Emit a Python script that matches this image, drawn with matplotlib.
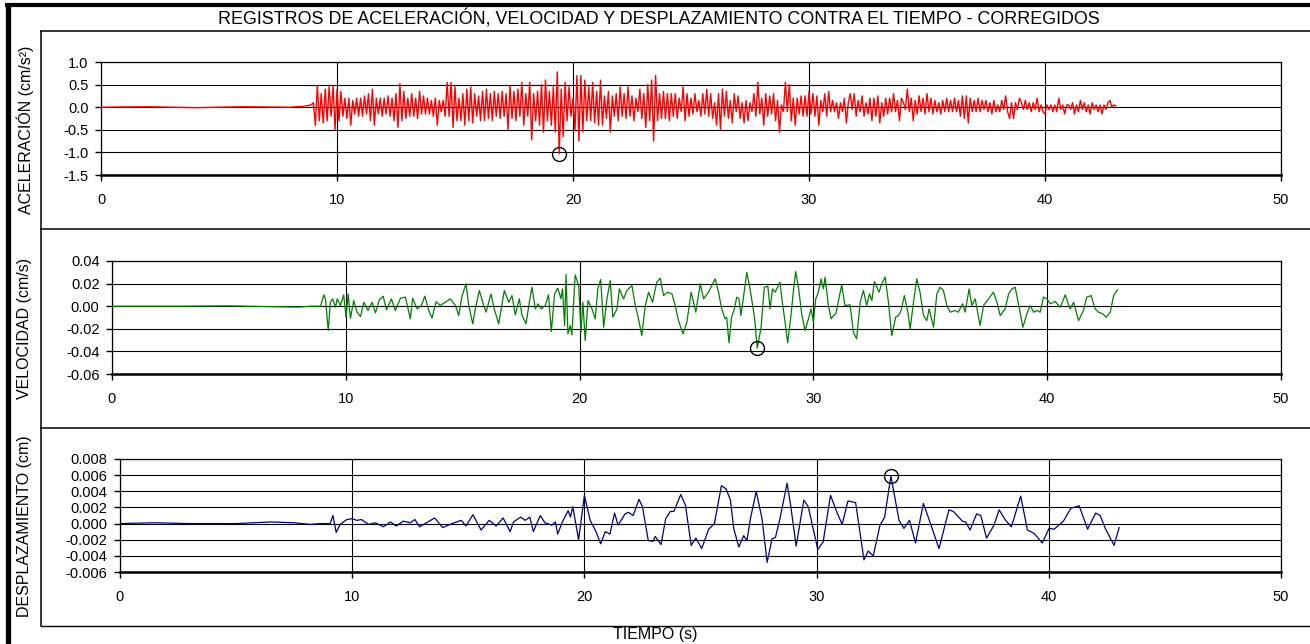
import numpy as np
import matplotlib
matplotlib.use('Agg')
import matplotlib.pyplot as plt
from matplotlib.lines import Line2D

plt.rcParams['font.family'] = ['Liberation Sans', 'DejaVu Sans']
plt.rcParams['axes.unicode_minus'] = False

W, H = 1310, 644

title = "REGISTROS DE ACELERACIÓN, VELOCIDAD Y DESPLAZAMIENTO CONTRA EL TIEMPO - CORREGIDOS"
x_label = "TIEMPO (s)"
y_labels = ["ACELERACIÓN (cm/s²)", "VELOCIDAD (cm/s)", "DESPLAZAMIENTO (cm)"]
x_ticks = [0, 10, 20, 30, 40, 50]
acc_ticks = [-1.5, -1.0, -0.5, 0.0, 0.5, 1.0]
vel_ticks = [-0.06, -0.04, -0.02, 0.0, 0.02, 0.04]
dis_ticks = [-0.006, -0.004, -0.002, 0.0, 0.002, 0.004, 0.006, 0.008]

# aceleracion antes del evento
acc_pre_t = [0.0, 2.0, 4.0, 6.0, 8.0, 8.6, 8.9]
acc_pre_v = [0.0, 0.01, -0.01, 0.01, 0.0, 0.02, 0.05]
# aceleracion, una fila por segundo desde t = 9 s (cm/s2)
acc_start = 9.0
acc_rows = [
    [0.1, -0.4, 0.48, -0.3, 0.3, -0.35, 0.4, -0.3, 0.45, -0.2, 0.48, -0.5],      # 9
    [0.4, -0.3, 0.35, -0.2, 0.2, -0.25, 0.2, -0.4, 0.15, -0.15, 0.2, -0.2],      # 10
    [0.2, -0.2, 0.25, -0.15, 0.3, -0.3, 0.4, -0.4, 0.2, -0.15, 0.2, -0.2],       # 11
    [0.2, -0.15, 0.25, -0.2, 0.2, -0.3, 0.3, -0.45, 0.52, -0.3, 0.35, -0.25],    # 12
    [0.2, -0.2, 0.3, -0.2, 0.2, -0.25, 0.35, -0.15, 0.25, -0.15, 0.2, -0.15],    # 13
    [0.15, -0.2, 0.2, -0.4, 0.15, -0.1, 0.15, -0.2, 0.55, -0.2, 0.55, -0.45],    # 14
    [0.45, -0.3, 0.2, -0.3, 0.3, -0.4, 0.4, -0.3, 0.45, -0.35, 0.3, -0.2],       # 15
    [0.25, -0.3, 0.35, -0.3, 0.4, -0.25, 0.3, -0.3, 0.35, -0.2, 0.3, -0.25],     # 16
    [0.35, -0.2, 0.3, -0.5, 0.48, -0.25, 0.35, -0.3, 0.4, -0.2, 0.55, -0.4],     # 17
    [0.3, -0.2, 0.55, -0.72, 0.3, -0.3, 0.35, -0.4, 0.5, -0.55, 0.6, -0.3],      # 18
    [0.35, -0.4, 0.45, -0.55, 0.78, -1.03, 0.4, -0.65, 0.55, -0.3, 0.45, -0.2],  # 19
    [0.2, -0.5, 0.7, -0.75, 0.7, -0.55, 0.6, -0.3, 0.45, -0.3, 0.55, -0.35],     # 20
    [0.35, -0.4, 0.6, -0.4, 0.25, -0.25, 0.35, -0.55, 0.25, -0.2, 0.3, -0.3],    # 21
    [0.45, -0.2, 0.3, -0.25, 0.45, -0.2, 0.25, -0.3, 0.2, -0.1, 0.4, -0.25],     # 22
    [0.3, -0.45, 0.5, -0.3, 0.6, -0.75, 0.7, -0.3, 0.3, -0.25, 0.35, -0.25],     # 23
    [0.3, -0.3, 0.3, -0.2, 0.3, -0.25, 0.2, -0.1, 0.45, -0.3, 0.3, -0.2],        # 24
    [0.2, -0.15, 0.3, -0.1, 0.15, -0.2, 0.3, -0.15, 0.4, -0.2, 0.3, -0.25],      # 25
    [0.1, -0.4, 0.3, -0.5, 0.4, -0.2, 0.35, -0.25, 0.15, -0.35, 0.3, -0.1],      # 26
    [0.25, -0.25, 0.1, -0.35, 0.15, -0.3, 0.1, -0.1, 0.3, -0.2, 0.55, -0.15],    # 27
    [0.2, -0.4, 0.3, -0.2, 0.25, -0.15, 0.3, -0.3, 0.15, -0.55, 0.05, -0.1],     # 28
    [0.55, -0.1, 0.5, -0.3, 0.2, -0.4, 0.2, -0.15, 0.25, -0.2, 0.25, -0.2],      # 29
    [0.35, -0.15, 0.3, -0.2, 0.25, -0.4, 0.15, -0.1, 0.3, -0.2, 0.35, -0.1],     # 30
    [0.15, -0.1, 0.1, -0.25, 0.1, -0.1, 0.2, -0.35, 0.1, 0.3, -0.05, 0.3],       # 31
    [-0.2, 0.15, -0.1, 0.25, -0.2, 0.1, -0.15, 0.2, -0.3, 0.2, -0.2, 0.25],      # 32
    [-0.35, 0.1, -0.2, 0.2, -0.15, 0.2, -0.1, 0.3, -0.1, 0.15, -0.3, 0.2],       # 33
    [0.1, -0.05, 0.4, -0.1, 0.2, -0.3, 0.15, -0.15, 0.25, -0.1, 0.2, -0.15],     # 34
    [0.3, -0.1, 0.2, -0.15, 0.15, -0.1, 0.1, -0.15, 0.15, -0.1, 0.2, -0.1],      # 35
    [0.15, -0.1, 0.2, -0.1, 0.15, -0.2, 0.25, -0.25, 0.25, -0.35, 0.2, -0.1],    # 36
    [0.15, -0.1, 0.2, -0.1, 0.15, -0.05, 0.15, -0.1, 0.1, -0.15, 0.15, -0.1],    # 37
    [0.05, -0.1, 0.15, -0.05, 0.25, -0.1, -0.25, 0.1, -0.25, 0.1, -0.05, 0.2],   # 38
    [0.1, -0.05, 0.15, -0.05, 0.1, -0.1, 0.1, -0.05, 0.2, -0.1, 0.05, -0.1],     # 39
    [-0.15, 0.05, -0.05, 0.05, -0.1, 0.05, -0.1, 0.2, -0.05, 0.05, -0.15, 0.05], # 40
    [0.05, -0.05, 0.1, -0.15, 0.05, -0.1, 0.15, -0.05, 0.1, -0.1, 0.05, -0.15],  # 41
    [0.1, -0.05, 0.05, -0.1, 0.05, -0.15, 0.05, -0.05, 0.1, 0.15, 0.0, 0.05],    # 42
    [0.03],                                                                      # 43
]

# velocidad (cm/s)
vel_t = [0.0, 3.0, 5.0, 7.0, 8.0, 8.5,
         8.70, 8.92, 9.06, 9.13, 9.25, 9.34, 9.44, 9.56, 9.63, 9.77, 9.91, 10.01, 10.10, 10.20,
         10.34, 10.48, 10.63, 10.77, 10.95, 11.13, 11.27, 11.44, 11.60, 11.74, 11.95, 12.12,
         12.34, 12.55, 12.76, 12.86, 13.05, 13.23, 13.38, 13.55, 13.69, 13.86, 14.05, 14.26,
         14.47, 14.69, 14.83, 14.97, 15.14, 15.26, 15.43, 15.54, 15.71, 15.90, 16.00, 16.21,
         16.35, 16.54, 16.78, 16.97, 17.11, 17.25, 17.42, 17.54, 17.71, 17.85, 17.96, 18.11,
         18.22, 18.36, 18.53, 18.67, 18.79, 18.93, 19.07, 19.20, 19.27, 19.36, 19.42, 19.50,
         19.60, 19.67, 19.81, 19.96, 20.06, 20.14, 20.24, 20.36, 20.53, 20.67, 20.78, 20.90,
         21.03, 21.17, 21.31, 21.42, 21.60, 21.70, 21.88, 22.02, 22.24, 22.38, 22.52, 22.66,
         22.81, 22.95, 23.12, 23.30, 23.45, 23.59, 23.77, 23.95, 24.09, 24.23, 24.42, 24.59,
         24.77, 24.97, 25.16, 25.30, 25.51, 25.80, 25.94, 26.08,
         26.22, 26.29, 26.39, 26.50, 26.62, 26.72, 26.82, 26.90, 27.00, 27.15, 27.29, 27.48,
         27.60, 27.76, 27.90, 28.05, 28.15, 28.25, 28.36, 28.47, 28.57, 28.67, 28.79, 28.90,
         29.04, 29.14, 29.24, 29.36, 29.50, 29.64, 29.79, 29.90, 30.00, 30.10, 30.21, 30.33,
         30.43, 30.50, 30.64, 30.76, 30.86, 30.96, 31.21, 31.35, 31.57, 31.71, 31.85, 32.00,
         32.14, 32.28, 32.40, 32.50, 32.61, 32.81, 32.92, 33.07, 33.21, 33.35, 33.52, 33.64,
         33.75, 33.89, 34.04, 34.14, 34.28, 34.42, 34.56, 34.71, 34.85, 34.95, 35.14, 35.28,
         35.42, 35.56, 35.71, 35.85, 36.06, 36.20, 36.38, 36.49, 36.66, 36.78, 36.92, 37.13,
         37.28, 37.49, 37.70, 37.85, 37.99, 38.20, 38.35, 38.49, 38.63, 38.77, 38.96, 39.13,
         39.27, 39.42, 39.56, 39.70, 39.84, 39.99, 40.13, 40.34, 40.56, 40.77, 40.98, 41.13,
         41.34, 41.55, 41.69, 41.88, 42.05, 42.19, 42.38, 42.52, 42.70, 42.84, 43.01]
vel_v = [0.0, 0.0, 0.0003, -0.0005, -0.0008, 0.0,
         0.0, 0.0, 0.010, 0.0065, -0.0215, 0.0035, 0.0065, -0.001, 0.0065, 0.0006, 0.010, -0.0097, 0.0109, -0.0106,
         0.005, -0.0053, -0.0091, 0.0035, -0.0038, 0.0035, -0.0059, 0.0059, 0.0088, -0.0032, 0.0065, -0.0038,
         0.0071, 0.008, -0.0112, 0.0071, -0.0024, 0.0006, 0.0088, -0.0038, -0.0106, 0.004, 0.0006, 0.0035,
         0.0065, 0.0006, -0.0083, 0.0088, 0.0198, 0.0006, -0.0156, -0.0024, 0.0139, 0.0006, -0.0053, 0.0109,
         -0.0024, -0.0156, 0.0139, 0.0035, 0.0094, -0.0077, 0.0065, -0.0083, -0.0156, 0.0035, 0.0168, -0.0024,
         0.0021, -0.0024, 0.0006, 0.010, -0.0224, 0.0109, 0.0159, 0.0065, 0.0153, -0.0171, 0.028, -0.0245,
         -0.0171, -0.0254, 0.0277, 0.0183, -0.023, 0.0035, -0.0304, 0.005, -0.0024, -0.0112, 0.0153, 0.0236,
         -0.0186, 0.0065, 0.0227, -0.0097, -0.0024, 0.0153, 0.0065, 0.0139, 0.0183, 0.0006, -0.0112, -0.026,
         0.0006, 0.0124, 0.0035, 0.0212, 0.0248, 0.0094, 0.0124, 0.0109, 0.0006, -0.0127, -0.0245, -0.0141,
         0.0124, -0.0053, 0.0198, 0.0065, 0.0124, 0.0242, 0.0124, -0.0024,
         -0.0112, -0.0097, -0.0324, -0.0097, -0.0024, 0.008, 0.0065, -0.0083, 0.0065, 0.0301, 0.0153, -0.0097,
         -0.037, -0.019, 0.0168, 0.0177, -0.0024, 0.0153, 0.0124, 0.0168, 0.0212, 0.0035, -0.0141, -0.0324,
         -0.0083, 0.0124, 0.0307, 0.0168, -0.0068, -0.0215, -0.0112, -0.0024, -0.0141, 0.0065, 0.0124, 0.0242,
         0.0153, 0.0257, 0.0006, -0.0112, -0.0083, -0.0068, 0.0189, 0.0006, 0.0012, -0.023, -0.0289, 0.0035,
         0.0139, 0.0006, 0.0109, 0.005, 0.0218, 0.0124, 0.0198, 0.0257, 0.0035, -0.026, -0.0097, -0.0083,
         -0.0038, 0.0094, -0.0053, -0.0201, 0.0035, 0.0242, 0.0124, -0.0083, -0.0127, -0.0024, -0.0186, 0.0109,
         0.0168, 0.0139, 0.0006, -0.0053, -0.0038, -0.0053, 0.0021, -0.0053, 0.0153, 0.0006, 0.0065, -0.0171,
         0.0006, 0.0065, 0.0124, 0.0035, -0.0083, -0.0024, 0.0109, 0.0153, 0.0168, 0.0021, -0.0186, -0.0068,
         0.0006, -0.0053, -0.0038, -0.0053, 0.008, 0.0065, 0.0021, 0.0041, -0.0009, 0.0100, -0.0024, 0.0035,
         -0.0127, -0.0038, 0.008, 0.0094, -0.0024, -0.0053, -0.0068, -0.0097, -0.0053, 0.0094, 0.0145]

# desplazamiento (cm)
dis_t = [0.0, 1.5, 3.0, 5.0, 6.5, 7.5, 8.2, 8.62,
         9.05, 9.17, 9.31, 9.48, 9.77, 10.0, 10.2, 10.4, 10.7, 11.0, 11.35, 11.65, 11.9, 12.2,
         12.5, 12.7, 12.9, 13.2, 13.55, 13.9, 14.3, 14.7, 14.9, 15.2, 15.55, 15.9, 16.2, 16.5,
         16.8, 16.95, 17.25, 17.45, 17.65, 17.8, 18.1, 18.3, 18.6, 18.75, 18.85, 19.05, 19.3,
         19.4, 19.5, 19.75, 20.0, 20.25, 20.5, 20.7, 20.9, 21.1, 21.3, 21.45, 21.75, 21.9, 22.1,
         22.35, 22.5, 22.75, 22.95, 23.05, 23.3, 23.5, 23.7, 23.85, 24.15, 24.35, 24.6, 24.8,
         25.05, 25.35, 25.6, 25.9, 26.1, 26.29, 26.43, 26.65, 26.86, 27.0, 27.15, 27.4, 27.65,
         27.87, 28.08, 28.23, 28.42, 28.73, 28.88, 29.12, 29.45, 29.64, 30.05, 30.28, 30.6,
         30.86, 31.1, 31.35, 31.68, 32.04, 32.22, 32.44, 32.73, 32.93, 33.2, 33.55, 33.76, 34.0,
         34.26, 34.6, 34.88, 35.27, 35.7, 35.89, 36.28, 36.42, 36.61, 36.89, 37.07, 37.32,
         37.64, 37.86, 38.14, 38.39, 38.79, 39.08, 39.36, 39.72, 40.01, 40.23, 40.63, 40.95,
         41.31, 41.67, 42.02, 42.21, 42.45, 42.81, 43.03]
dis_v = [0.0, 0.0001, 0.0, 0.0, 0.0002, 0.0001, -0.0001, 0.0,
         0.0, 0.001, -0.0011, -0.0001, 0.0005, 0.0006, 0.0004, 0.0005, -0.0001, 0.0001, -0.0004, 0.0002, -0.0003, 0.0003,
         0.0001, 0.0005, -0.0004, 0.0001, 0.0007, -0.0005, 0.0, 0.0004, -0.0003, 0.0011, -0.0008, 0.0004, -0.0003, 0.0007,
         -0.001, 0.0002, 0.0008, 0.0004, 0.0008, -0.001, 0.001, 0.0001, -0.0002, 0.0002, -0.0013, 0.0002, 0.0016,
         0.0008, 0.0021, -0.002, 0.0035, 0.0004, -0.001, -0.0025, -0.001, -0.0013, 0.0013, -0.0002, 0.0012, 0.0014, 0.001,
         0.003, 0.0021, -0.0021, -0.0022, -0.0016, -0.0026, 0.0006, 0.0015, 0.0015, 0.0036, 0.0023, -0.0027, -0.0018,
         -0.0031, -0.0007, 0.0, 0.0047, 0.0043, 0.0029, -0.0006, -0.0029, -0.0015, -0.0021, 0.0006, 0.004, 0.0006,
         -0.0048, -0.0019, -0.0017, 0.0006, 0.005, 0.0023, -0.0028, 0.0029, 0.0021, -0.0032, -0.0023, 0.0035,
         0.0015, -0.0001, 0.0028, 0.0026, -0.0045, -0.0034, -0.004, -0.0002, 0.0008, 0.0059, 0.0004, -0.0006, 0.0004,
         -0.0024, 0.0025, 0.0002, -0.0031, 0.0017, 0.0015, 0.0003, 0.0002, -0.0008, 0.0012, 0.001, -0.0018,
         -0.0002, 0.0017, 0.0004, -0.0004, 0.0034, -0.0008, -0.0012, -0.0024, -0.0006, -0.0007, 0.0003, 0.0019,
         0.0022, -0.0007, 0.0013, 0.001, -0.0007, -0.0027, -0.0005]


def fx(px):
    return px / W


def fy(py):
    return 1 - py / H


def figLine(fig, x0, y0, x1, y1, lw):
    fig.add_artist(Line2D([fx(x0), fx(x1)], [fy(y0), fy(y1)], transform=fig.transFigure,
                          color='black', lw=lw, solid_capstyle='butt'))


def accSeries():
    t = list(acc_pre_t)
    v = list(acc_pre_v)
    for k, row in enumerate(acc_rows):
        for j, val in enumerate(row):
            t.append(acc_start + k + j / len(row))
            v.append(val)
    return np.array(t), np.array(v)


def drawPanel(fig, box, t, v, color, yticks, fmt, lw=0.9):
    left, right, top, bottom = box
    ax = fig.add_axes([fx(left), fy(bottom), fx(right) - fx(left), fy(top) - fy(bottom)])
    ax.plot(t, v, color=color, lw=lw, zorder=3)
    ax.set_xlim(0, 50)
    ax.set_ylim(yticks[0], yticks[-1])
    ax.set_xticks(x_ticks)
    ax.set_yticks(yticks)
    ax.set_yticklabels([fmt % y for y in yticks])
    ax.grid(True, color='black', lw=0.8)
    ax.set_axisbelow(True)
    ax.tick_params(direction='out', length=4, width=1, labelsize=10.5, colors='black')
    ax.tick_params(axis='x', pad=9)
    ax.tick_params(axis='y', pad=5)
    for s in ['top', 'right', 'left']:
        ax.spines[s].set_linewidth(0.9)
    ax.spines['bottom'].set_linewidth(1.8)
    # circulo en el valor maximo absoluto
    i = int(np.argmax(np.abs(v)))
    ax.plot(t[i], v[i], 'o', mfc='none', mec='black', ms=10, mew=1.0, zorder=4, clip_on=False)
    return ax


def drawAll():
    fig = plt.figure(figsize=(W / 100, H / 100), dpi=100)

    # marco
    figLine(fig, 5, 4.5, W, 4.5, 3.0)
    figLine(fig, 7.5, 3, 7.5, H, 3.8)
    figLine(fig, 40, 31, W, 31, 1.1)
    figLine(fig, 40.5, 31, 40.5, 626, 1.1)
    figLine(fig, 40, 229, W, 229, 1.1)
    figLine(fig, 40, 427.5, W, 427.5, 1.1)
    figLine(fig, 40, 626, W, 626, 1.0)

    fig.text(fx(659), fy(19), title, ha='center', va='center', fontsize=12.9)
    fig.text(fx(655), fy(634), x_label, ha='center', va='center', fontsize=11.5)

    t_acc, v_acc = accSeries()
    drawPanel(fig, (101, 1281, 62, 175), t_acc, v_acc, '#FF0000', acc_ticks, '%.1f', lw=1.0)
    drawPanel(fig, (112, 1281, 261, 374), np.array(vel_t), np.array(vel_v), '#008000', vel_ticks, '%.2f')
    drawPanel(fig, (120, 1281, 459, 572), np.array(dis_t), np.array(dis_v), '#000080', dis_ticks, '%.3f')

    for lab, yc in zip(y_labels, [130, 328, 526]):
        fig.text(fx(25), fy(yc), lab, rotation=90, ha='center', va='center', fontsize=11.5)

    fig.savefig('out.png', dpi=100)
    print("finished draw data.")


if __name__ == "__main__":
    drawAll()
